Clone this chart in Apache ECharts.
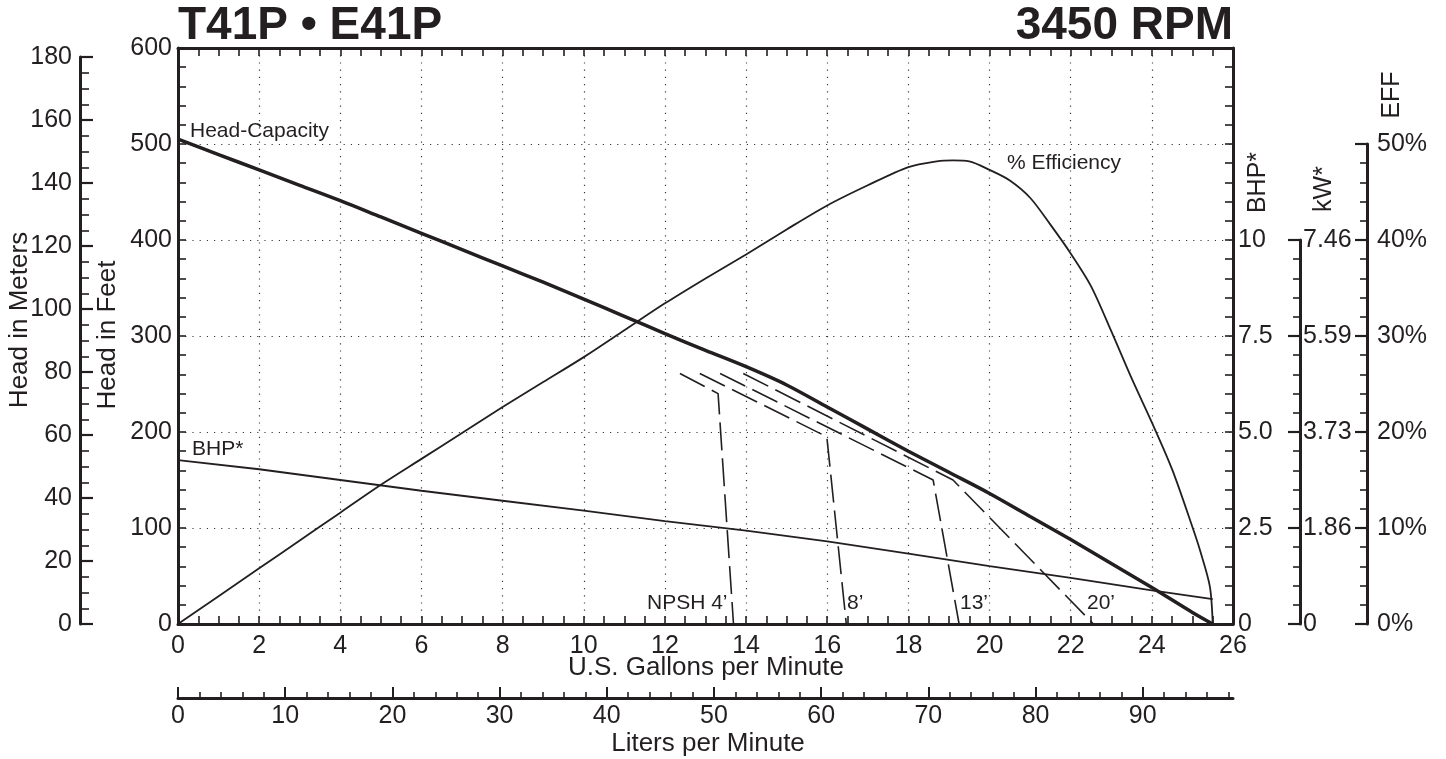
<!DOCTYPE html>
<html><head><meta charset="utf-8">
<script src="https://cdn.jsdelivr.net/npm/echarts@6/dist/echarts.min.js"></script>
<style>html,body{margin:0;padding:0;background:#fff}#c{width:1446px;height:759px}</style>
</head><body><div id="c"></div>
<script>
// ---- data ----
const headGpm = [0,1,2,3,4,5,6,7,8,9,10,11,12,13,14,15,16,17,18,19,20,21,22,23,24,25,25.5];
const headFt  = [505,489,473,457,441,424,407,390,373,356,338.5,320.5,302.5,285,268,249,226,203,180,158,136,112,88,63,38,12,0];

const effGpm = [0,1,2,3,4,5,6,7,8,9,10,11,12,13,14,15,16,17,18,18.7,19.1,19.5,20,20.5,21,21.5,22,22.5,23,23.5,24,24.5,25,25.2,25.43,25.5];
const effPct = [0,2.9,5.8,8.7,11.6,14.5,17.2,19.9,22.6,25.2,27.8,30.6,33.4,36.0,38.5,41.1,43.6,45.7,47.6,48.2,48.3,48.2,47.3,46.2,44.4,41.6,38.6,35.2,30.5,25.6,21.0,16.1,10.1,7.5,3.9,0];

const bhpGpm = [0,2,4,6,8,10,12,14,16,18,20,22,24,25.5];
const bhpVal = [4.27,4.03,3.75,3.47,3.21,2.95,2.68,2.43,2.15,1.83,1.51,1.2,0.875,0.65];

const npsh4Gpm  = [12.37,13.31,13.69];  const npsh4Ft  = [261,240,0];
const npsh8Gpm  = [12.86,15.99,16.47];  const npsh8Ft  = [261,195,0];
const npsh13Gpm = [13.36,18.61,19.25];  const npsh13Ft = [261,150,0];
const npsh20Gpm = [13.93,19.10,22.56];  const npsh20Ft = [261,150,0];

// tick labels
const bhpLabels = ['0','2.5','5.0','7.5','10'];
const kwLabels  = ['0','1.86','3.73','5.59','7.46'];
const effLabels = ['0%','10%','20%','30%','40%','50%'];
const literMajor = [0,10,20,30,40,50,60,70,80,90];
const literMinor = [2,4,6,8,12,14,16,18,22,24,26,28,32,34,36,38,42,44,46,48,52,54,56,58,62,64,66,68,72,74,76,78,82,84,86,88,92,94,96,98];

// ---- layout / style ----
const INK = '#231f20';
const FONT = '"Liberation Sans", Arial, Helvetica, sans-serif';
const LPG = 3.78541, FT_PER_M = 3.28084;
const G = {left:178, right:213, top:48, bottom:135};
const plotH = 759 - G.top - G.bottom;           // px for 600 ft
const pxPerFt = plotH / 600;
const yZero = 759 - G.bottom;

function zip(a,b){ return a.map((x,i)=>[x,b[i]]); }
const dotted = {color:'#3a3a3a', width:1.2, type:[1.2,6]};
const tick = (len, inside=true, w=1.6) => ({show:true, inside, length:len, lineStyle:{color:INK, width:w}});
const minor = (n, len, w=1.6) => ({show:true, splitNumber:n, length:len, lineStyle:{color:INK, width:w}});
const aline = {show:true, onZero:false, lineStyle:{color:INK, width:3}};
const lab = (margin, extra={}) => Object.assign({color:INK, fontSize:25, fontFamily:FONT, margin}, extra);

function txt(text, x, y, size, o={}) {
  const al = o.align || 'left';
  return {type:'text', x, y, rotation:o.rot||0, silent:true, z:100,
    style:{text, fill:INK, fontSize:size, fontFamily:FONT, fontWeight:o.bold?'bold':'normal',
      align:al, textAlign:al, verticalAlign:'middle', textVerticalAlign:'middle'}};
}

const chart = echarts.init(document.getElementById('c'), null, {renderer:'canvas'});
const dashStyle = {color:INK, width:1.6, type:[28,8]};
const npsh = (g,f,n) => ({type:'line', name:n, xAxisIndex:0, yAxisIndex:0, data:zip(g,f), symbol:'none', lineStyle:dashStyle, silent:true});

chart.setOption({
  animation:false,
  backgroundColor:'#fff',
  grid:[
    Object.assign({}, G),
    {left:80, width:20, top: yZero - 180*FT_PER_M*pxPerFt, bottom:G.bottom},
    {left:1280, right:146, top: yZero - 400*pxPerFt, bottom:G.bottom},
    {left:1347, right:79, top: yZero - 500*pxPerFt, bottom:G.bottom}
  ],
  xAxis:[
    {gridIndex:0, type:'value', position:'bottom', min:0, max:26, interval:2,
     axisLine:aline, axisTick:tick(8), minorTick:minor(4,8),
     splitLine:{show:true, lineStyle:dotted}, axisLabel:lab(10)},
    {gridIndex:0, type:'value', position:'top', min:0, max:26, interval:2,
     axisLine:aline, axisTick:tick(8), minorTick:minor(4,8),
     splitLine:{show:false}, axisLabel:{show:false}},
    {gridIndex:0, type:'value', position:'bottom', offset:74, min:0, max:26*LPG,
     axisLine:aline, axisTick:Object.assign(tick(11,true,2),{customValues:literMajor}),
     splitLine:{show:false}, axisLabel:lab(6,{customValues:literMajor})},
    {gridIndex:0, type:'value', position:'bottom', offset:74, min:0, max:26*LPG,
     axisLine:{show:false, onZero:false}, axisTick:Object.assign(tick(6,true,1.6),{customValues:literMinor}),
     splitLine:{show:false}, axisLabel:{show:false}},
    {gridIndex:1, type:'value', show:false, axisLine:{onZero:false}},
    {gridIndex:2, type:'value', show:false, axisLine:{onZero:false}},
    {gridIndex:3, type:'value', show:false, axisLine:{onZero:false}}
  ],
  yAxis:[
    {gridIndex:0, type:'value', position:'left', min:0, max:600, interval:100,
     axisLine:aline, axisTick:tick(8), minorTick:minor(5,8),
     splitLine:{show:true, lineStyle:dotted}, axisLabel:lab(6)},
    {gridIndex:0, type:'value', position:'right', min:0, max:15, interval:2.5,
     axisLine:aline, axisTick:tick(8), minorTick:minor(5,8), splitLine:{show:false},
     axisLabel:lab(5,{formatter:v => v <= 10 ? bhpLabels[Math.round(v/2.5)] : ''})},
    {gridIndex:0, type:'value', show:false, min:0, max:60, axisLine:{onZero:false}},
    {gridIndex:1, type:'value', position:'left', min:0, max:180, interval:20,
     axisLine:aline, axisTick:tick(13,true,2.2), minorTick:minor(4,9,1.6), splitLine:{show:false},
     axisLabel:lab(8)},
    {gridIndex:2, type:'value', position:'right', min:0, max:7.46, interval:1.865,
     axisLine:aline, axisTick:tick(12,true,2.2), minorTick:minor(5,7,1.6), splitLine:{show:false},
     axisLabel:lab(3,{formatter:v => kwLabels[Math.round(v/1.865)] || ''})},
    {gridIndex:3, type:'value', position:'right', min:0, max:50, interval:10,
     axisLine:aline, axisTick:tick(12,true,2.2), minorTick:minor(5,7,1.6), splitLine:{show:false},
     axisLabel:lab(10,{formatter:v => effLabels[Math.round(v/10)] || ''})}
  ],
  series:[
    {type:'line', name:'Head-Capacity', xAxisIndex:0, yAxisIndex:0, data:zip(headGpm, headFt),
     symbol:'none', smooth:0.3, lineStyle:{color:INK, width:3.5}, silent:true, z:5},
    {type:'line', name:'% Efficiency', xAxisIndex:0, yAxisIndex:2, data:zip(effGpm, effPct),
     symbol:'none', smooth:0.3, lineStyle:{color:INK, width:1.8}, silent:true},
    {type:'line', name:'BHP*', xAxisIndex:0, yAxisIndex:1, data:zip(bhpGpm, bhpVal),
     symbol:'none', lineStyle:{color:INK, width:1.8}, silent:true},
    npsh(npsh4Gpm, npsh4Ft, 'NPSH 4’'),
    npsh(npsh8Gpm, npsh8Ft, '8’'),
    npsh(npsh13Gpm, npsh13Ft, '13’'),
    npsh(npsh20Gpm, npsh20Ft, '20’')
  ],
  graphic:[
    txt('T41P • E41P', 178, 26.7, 46, {bold:true}),
    txt('3450 RPM', 1233, 26.7, 46, {bold:true, align:'right'}),
    txt('Head in Meters', 19.5, 320, 26, {rot:Math.PI/2, align:'center'}),
    txt('Head in Feet', 107.5, 335, 26, {rot:Math.PI/2, align:'center'}),
    txt('BHP*', 1258, 182.5, 25, {rot:Math.PI/2, align:'center'}),
    txt('kW*', 1324, 189, 25, {rot:Math.PI/2, align:'center'}),
    txt('EFF', 1392, 95, 25, {rot:Math.PI/2, align:'center'}),
    txt('U.S. Gallons per Minute', 706, 668, 26, {align:'center'}),
    txt('Liters per Minute', 708, 743.5, 26, {align:'center'}),
    txt('Head-Capacity', 190, 131.5, 21),
    txt('% Efficiency', 1007, 163, 21),
    txt('BHP*', 192, 449, 21),
    txt('NPSH 4’', 647, 603, 21),
    txt('8’', 847, 603, 21),
    txt('13’', 960, 603, 21),
    txt('20’', 1087, 603, 21)
  ]
});
</script></body></html>
